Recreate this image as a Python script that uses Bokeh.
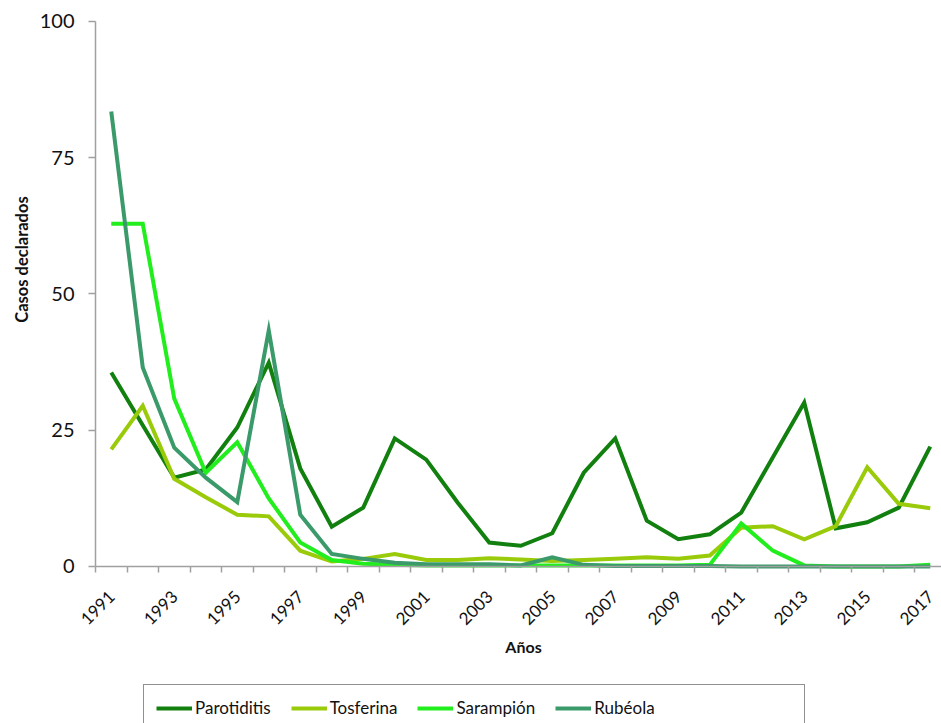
from bokeh.plotting import figure
from bokeh.models import Range1d, FixedTicker, Legend, LegendItem, Label
from bokeh.embed import file_html
from bokeh.resources import INLINE
import math

years = list(range(1991, 2018))

parotiditis = [35.6, 25.9, 16.3, 17.8, 25.5, 37.4, 18.0, 7.3, 10.8, 23.5, 19.6, 11.7, 4.4, 3.8,
               6.1, 17.2, 23.5, 8.4, 5.0, 5.9, 9.9, 20.0, 30.1, 7.0, 8.1, 10.8, 22.0]
tosferina = [21.5, 29.5, 16.1, 12.7, 9.5, 9.2, 2.9, 0.9, 1.4, 2.3, 1.2, 1.2, 1.5, 1.3,
             1.0, 1.2, 1.4, 1.7, 1.4, 2.0, 7.1, 7.4, 5.0, 7.4, 18.2, 11.5, 10.7]
sarampion = [62.9, 62.9, 30.8, 17.2, 22.8, 12.5, 4.4, 1.2, 0.5, 0.3, 0.2, 0.2, 0.2, 0.2,
             0.2, 0.2, 0.2, 0.2, 0.2, 0.3, 7.9, 2.9, 0.2, 0.0, 0.0, 0.0, 0.3]
rubeola = [83.5, 36.5, 21.8, 16.3, 11.8, 43.3, 9.5, 2.3, 1.4, 0.7, 0.4, 0.4, 0.4, 0.2,
           1.7, 0.3, 0.1, 0.1, 0.1, 0.1, 0.0, 0.0, 0.0, 0.0, 0.0, 0.0, 0.0]

series_names = ["Parotiditis", "Tosferina", "Sarampión", "Rubéola"]
series_values = [parotiditis, tosferina, sarampion, rubeola]
series_colors = ["#11800f", "#9acb0a", "#22ee1e", "#3a9a6a"]

y_ticks = [0, 25, 50, 75, 100]
x_label_years = list(range(1991, 2018, 2))
x_title = "Años"
y_title = "Casos declarados"

FONT = "Lato"

# The frame covers the whole canvas so that the axes, titles and legend all sit
# inside it; the ranges are padded so the plotting area matches the reference.
p = figure(width=941, height=723, output_backend="svg", toolbar_location=None,
           x_range=Range1d(1987.484, 2017.357), y_range=Range1d(-28.81, 103.85),
           min_border=0, min_border_left=0, min_border_right=0,
           min_border_top=0, min_border_bottom=0)
p.grid.visible = False
p.outline_line_color = None
p.background_fill_color = "white"
p.border_fill_color = "white"

renderers = []
for name, vals, col in zip(series_names, series_values, series_colors):
    r = p.line(years, vals, line_color=col, line_width=4, line_join="miter")
    renderers.append(r)

# invisible renderer used only to widen the legend box to the right
ghost = p.line(years, parotiditis, line_alpha=0)

# X axis (drawn at y = 0)
xa = p.xaxis[0]
xa.fixed_location = 0
xa.bounds = (1990.5, 2017.357)
xa.ticker = FixedTicker(ticks=x_label_years,
                        minor_ticks=[y - 0.5 for y in range(1991, 2019)])
xa.major_tick_out = 0
xa.major_tick_in = 0
xa.minor_tick_out = 6
xa.minor_tick_in = 0
xa.minor_tick_line_color = "#a0a0a0"
xa.minor_tick_line_width = 1.5
xa.axis_line_color = "#a0a0a0"
xa.axis_line_width = 1.5
xa.major_label_orientation = math.pi / 4
xa.major_label_standoff = 21
xa.major_label_text_font = FONT
xa.major_label_text_font_size = "17px"
xa.major_label_text_color = "#111111"

# Y axis (drawn at the left edge of the first category)
ya = p.yaxis[0]
ya.fixed_location = 1990.5
ya.bounds = (0, 100)
ya.ticker = FixedTicker(ticks=y_ticks, minor_ticks=[])
ya.major_tick_out = 7
ya.major_tick_in = 0
ya.major_tick_line_color = "#a0a0a0"
ya.major_tick_line_width = 1.5
ya.axis_line_color = "#a0a0a0"
ya.axis_line_width = 1.5
ya.major_label_standoff = 14
ya.major_label_text_font = FONT
ya.major_label_text_font_size = "20px"
ya.major_label_text_color = "#111111"

# Axis titles
p.add_layout(Label(x=523, y=77, x_units="screen", y_units="screen", text=x_title,
                   text_font=FONT, text_font_style="bold", text_font_size="16px",
                   text_color="#111111", text_align="center", text_baseline="middle"))
p.add_layout(Label(x=21, y=464, x_units="screen", y_units="screen", text=y_title,
                   angle=math.pi / 2,
                   text_font=FONT, text_font_style="bold", text_font_size="16.5px",
                   text_color="#111111", text_align="center", text_baseline="middle"))

items = [LegendItem(label=n, renderers=[r]) for n, r in zip(series_names, renderers)]
items.append(LegendItem(label="\u00a0" * 18, renderers=[ghost]))

legend = Legend(items=items,
                orientation="horizontal", location=(143, -8),
                border_line_color="#222222", border_line_width=1.5,
                background_fill_color="white", background_fill_alpha=1.0,
                padding=12, spacing=20, label_standoff=3,
                glyph_width=36, glyph_height=20,
                label_text_font=FONT, label_text_font_size="17px",
                label_text_color="#111111")
p.add_layout(legend, "center")

open("out.html", "w").write(file_html(p, INLINE))
